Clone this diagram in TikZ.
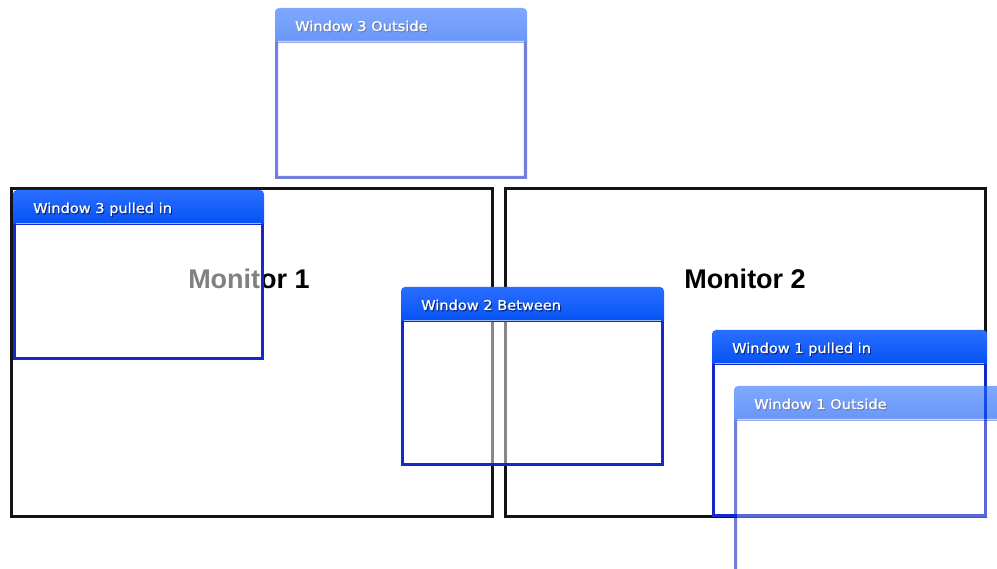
\documentclass[tikz,border=0pt]{standalone}
\usepackage{fontspec}
\setmainfont{Liberation Sans}
\newfontfamily\titlefont[FakeStretch=1.08, FakeBold=0.8]{DejaVu Sans}

\definecolor{barblue}{HTML}{0552F4}
\definecolor{bartop}{HTML}{2A6EFF}
\definecolor{edgeblue}{HTML}{1428CC}
\definecolor{monline}{HTML}{141414}

\tikzset{
  monitorframe/.style={draw=monline, line width=3pt},
  monitorlabel/.style={font=\bfseries\fontsize{27}{27}\selectfont, text=black, anchor=base, inner sep=0pt},
  wintitle/.style={font=\titlefont\fontsize{13.5}{13.5}\selectfont, text=white, anchor=base west, inner sep=0pt},
  wintitleshadow/.style={wintitle, text=black!80!edgeblue, opacity=0.6},
  winedge/.style={draw=edgeblue, line width=3.2pt},
  winbody/.style={fill=white, fill opacity=0.5},
  faded/.style={transparency group, opacity=0.6}
}

% \appwindow{name}{left}{top}{right}{bottom}{title}
\newcommand\appwindow[6]{%
  \fill[winbody] (#2,#3+33) rectangle (#4,#5);
  \draw[winedge] (#2+1.6,#3+33) rectangle (#4-1.6,#5-1.6);
  \shade[top color=bartop, bottom color=barblue]
    (#2,#3+34) [rounded corners=4pt] -- (#2,#3) -- (#4,#3) [sharp corners] -- (#4,#3+34) -- cycle;
  \draw[white!60!barblue, line width=1pt] (#2+3,#3+33.5) -- (#4-3,#3+33.5);
  \node[wintitleshadow] at (#2+21,#3+24.2) {#6};
  \node[wintitle] (#1) at (#2+20,#3+23) {#6};
}

\begin{document}
\begin{tikzpicture}[x=1pt, y=-1pt]
  \useasboundingbox (0,0) rectangle (997,569);
  \clip (0,0) rectangle (997,569);
  \fill[white] (0,0) rectangle (997,569);

  % the two monitors
  \draw[monitorframe] (11,189) rectangle (492,516);
  \draw[monitorframe] (505,189) rectangle (985,516);
  \node[monitorlabel] (mon1) at (249,289) {Monitor 1};
  \node[monitorlabel] (mon2) at (745,289) {Monitor 2};

  % windows placed on the desktop
  \appwindow{w3in}{13}{190}{264}{360}{Window 3 pulled in}
  \appwindow{w2}{401}{287}{664}{466}{Window 2 Between}
  \begin{scope}[faded]
    \appwindow{w3out}{275}{8}{527}{179}{Window 3 Outside}
  \end{scope}
  \appwindow{w1in}{712}{330}{987}{517}{Window 1 pulled in}
  \begin{scope}[faded]
    \appwindow{w1out}{734}{386}{1012}{600}{Window 1 Outside}
  \end{scope}
\end{tikzpicture}
\end{document}
